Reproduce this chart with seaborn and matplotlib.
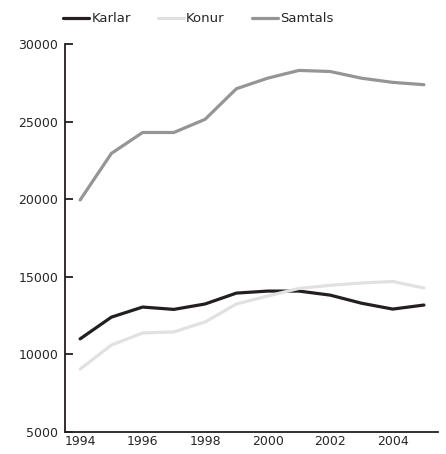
import pandas as pd
import matplotlib
matplotlib.use("Agg")
import matplotlib.pyplot as plt
import seaborn as sns

# Gögn lesin af myndinni
years = [1994, 1995, 1996, 1997, 1998, 1999, 2000, 2001, 2002, 2003, 2004, 2005]
karlar = [11000, 12400, 13050, 12900, 13250, 13950, 14080, 14080, 13820, 13300, 12920, 13180]
konur = [9050, 10600, 11380, 11450, 12090, 13250, 13760, 14250, 14450, 14600, 14700, 14280]
samtals = [19950, 22950, 24300, 24300, 25150, 27120, 27800, 28300, 28230, 27800, 27530, 27380]

series_names = ["Karlar", "Konur", "Samtals"]
colors = ["#231f20", "#e1e1e1", "#959595"]
yticks = [5000, 10000, 15000, 20000, 25000, 30000]
xticks = [1994, 1996, 1998, 2000, 2002, 2004]

df = pd.DataFrame({"Ár": years, "Karlar": karlar, "Konur": konur, "Samtals": samtals})
df_long = df.melt(id_vars="Ár", var_name="Hópur", value_name="Fjöldi")

sns.set_style("white")
plt.rcParams["font.family"] = ["DejaVu Sans"]

fig = plt.figure(figsize=(4.46, 4.54), dpi=100)
ax = fig.add_axes([0.146, 0.0485, 0.836, 0.8545])

sns.lineplot(data=df_long, x="Ár", y="Fjöldi", hue="Hópur", hue_order=series_names,
             palette=colors, linewidth=2.3, ax=ax)

ax.set_xlim(1993.52, 2005.45)
ax.set_ylim(5000, 30000)
ax.set_yticks(yticks)
ax.set_xticks(xticks)
ax.set_xlabel("")
ax.set_ylabel("")

for s in ["top", "right"]:
    ax.spines[s].set_visible(False)
for s in ["left", "bottom"]:
    ax.spines[s].set_color("#231f20")
    ax.spines[s].set_linewidth(1.3)

ax.tick_params(axis="y", direction="in", length=6, width=1.3, color="#231f20",
               labelsize=9, pad=5, left=True)
ax.tick_params(axis="x", length=0, labelsize=9, pad=2)

handles, labels = ax.get_legend_handles_labels()
ax.get_legend().remove()
fig.legend(handles, labels, loc="center left", bbox_to_anchor=(63 / 446, 1 - 19 / 454),
           ncol=3, frameon=False, fontsize=9.5, handlelength=2.0, handletextpad=0.15,
           columnspacing=2.05, borderpad=0, borderaxespad=0)

fig.savefig("out.png", dpi=100)
